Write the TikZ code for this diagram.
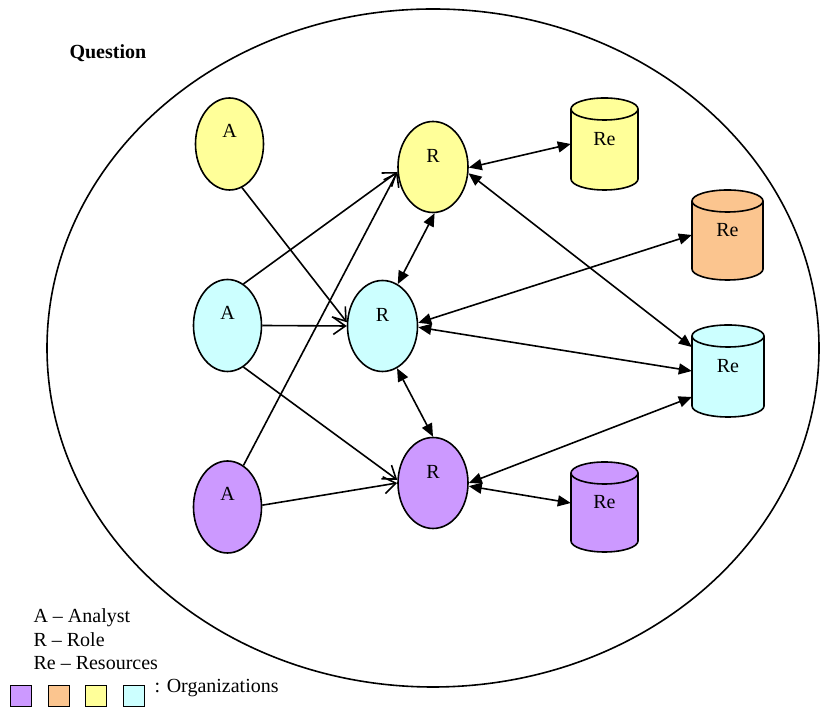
\documentclass[tikz,border=0pt]{standalone}
\usepackage{fontspec}
\setmainfont{Liberation Serif}
\usetikzlibrary{shapes.geometric,arrows.meta}

\definecolor{orgyellow}{HTML}{FFFF99}
\definecolor{orgcyan}{HTML}{CCFFFF}
\definecolor{orgpurple}{HTML}{CC99FF}
\definecolor{orgorange}{HTML}{FBC58F}

% resource cylinder: name, centre x, centre y, half width, half height, colour
\newcommand\resource[6]{%
  \draw[outline, fill=#6]
    (#2-#4, #3+#5-11) -- (#2-#4, #3-#5+11)
    arc[start angle=180, end angle=360, x radius=#4pt, y radius=11pt]
    -- (#2+#4, #3+#5-11)
    arc[start angle=0, end angle=180, x radius=#4pt, y radius=11pt] -- cycle;
  \draw[outline] (#2-#4, #3+#5-11)
    arc[start angle=180, end angle=360, x radius=#4pt, y radius=11pt];
  \node[resnode, minimum width={2*#4pt}, minimum height={2*#5pt}] (#1) at (#2,#3) {Re};%
}

\begin{document}
\begin{tikzpicture}[x=1pt, y=1pt,
  font=\fontsize{20}{24}\selectfont,
  outline/.style={draw=black, line width=1.6pt},
  actor/.style={ellipse, outline, inner sep=0pt, minimum width=68pt,
    minimum height=92pt, text height=13pt},
  analyst/.style={actor, text depth=25pt},
  role/.style={actor, minimum width=70pt, minimum height=91pt, text depth=21pt},
  resnode/.style={rectangle, inner sep=0pt, text height=13pt, text depth=10pt},
  link/.style={line width=1.6pt},
  assign/.style={link, -{Straight Barb[length=12pt,width=17pt]}},
  access/.style={link, {Triangle[length=13pt,width=11pt]}-{Triangle[length=13pt,width=11pt]}},
  swatch/.style={outline, rectangle, minimum size=21pt, inner sep=0pt}
]
\useasboundingbox (0,0) rectangle (821,708);

% question boundary
\draw[line width=1.6pt] (433,360) ellipse [x radius=386pt, y radius=339pt];
\node[font=\fontsize{20}{24}\selectfont\bfseries, anchor=base west] (question) at (66,649) {Question};

% analysts
\node[analyst, fill=orgyellow] (yA) at (229.5,564) {A};
\node[analyst, fill=orgcyan]   (cA) at (227.5,382.5) {A};
\node[analyst, fill=orgpurple] (pA) at (227.5,201) {A};

% roles
\node[role, fill=orgyellow] (yR) at (433,541) {R};
\node[role, fill=orgcyan]   (cR) at (382.5,382) {R};
\node[role, fill=orgpurple] (pR) at (433,225) {R};

% resources
\resource{yRe}{604.5}{564}{33.5}{46}{orgyellow}
\resource{oRe}{727.5}{473}{35.5}{45}{orgorange}
\resource{cRe}{728}{337}{36}{46}{orgcyan}
\resource{pRe}{604.5}{201}{33.5}{45}{orgpurple}

% analyst -> role assignments
\draw[assign] (yA.-74) -- (cR.174);
\draw[assign] (cA.69) -- (yR.-172);
\draw[assign] (pA.69) -- (yR.-172);
\draw[assign] (cA.east) -- (cR.west);
\draw[assign] (cA.-69) -- (pR.175);
\draw[assign] (pA.3) -- (pR.west);

% role <-> role
\draw[access] (yR.-88) -- (cR.70);
\draw[access] (cR.-71) -- (pR.90);

% role <-> resource
\draw[access] (yR.-1) -- (yRe.west);
\draw[access] (yR.-10) -- ([yshift=24pt]cRe.west);
\draw[access] (cR.5) -- (oRe.west);
\draw[access] (cR.-2) -- (cRe.west);
\draw[access] (pR.east) -- ([yshift=-26pt]cRe.west);
\draw[access] (pR.-5) -- ([yshift=4pt]pRe.west);

% legend
\node[anchor=base west] (legA)  at (30,85)   {A -- Analyst};
\node[anchor=base west] (legR)  at (30,61.5) {R -- Role};
\node[anchor=base west] (legRe) at (30,38)   {Re -- Resources};
\node[swatch, fill=orgpurple] (sw1) at (21,12)  {};
\node[swatch, fill=orgorange] (sw2) at (59,12)  {};
\node[swatch, fill=orgyellow] (sw3) at (96,12)  {};
\node[swatch, fill=orgcyan]   (sw4) at (134,12) {};
\node[anchor=base west] (legOrg) at (151,15) {: Organizations};
\end{tikzpicture}
\end{document}
